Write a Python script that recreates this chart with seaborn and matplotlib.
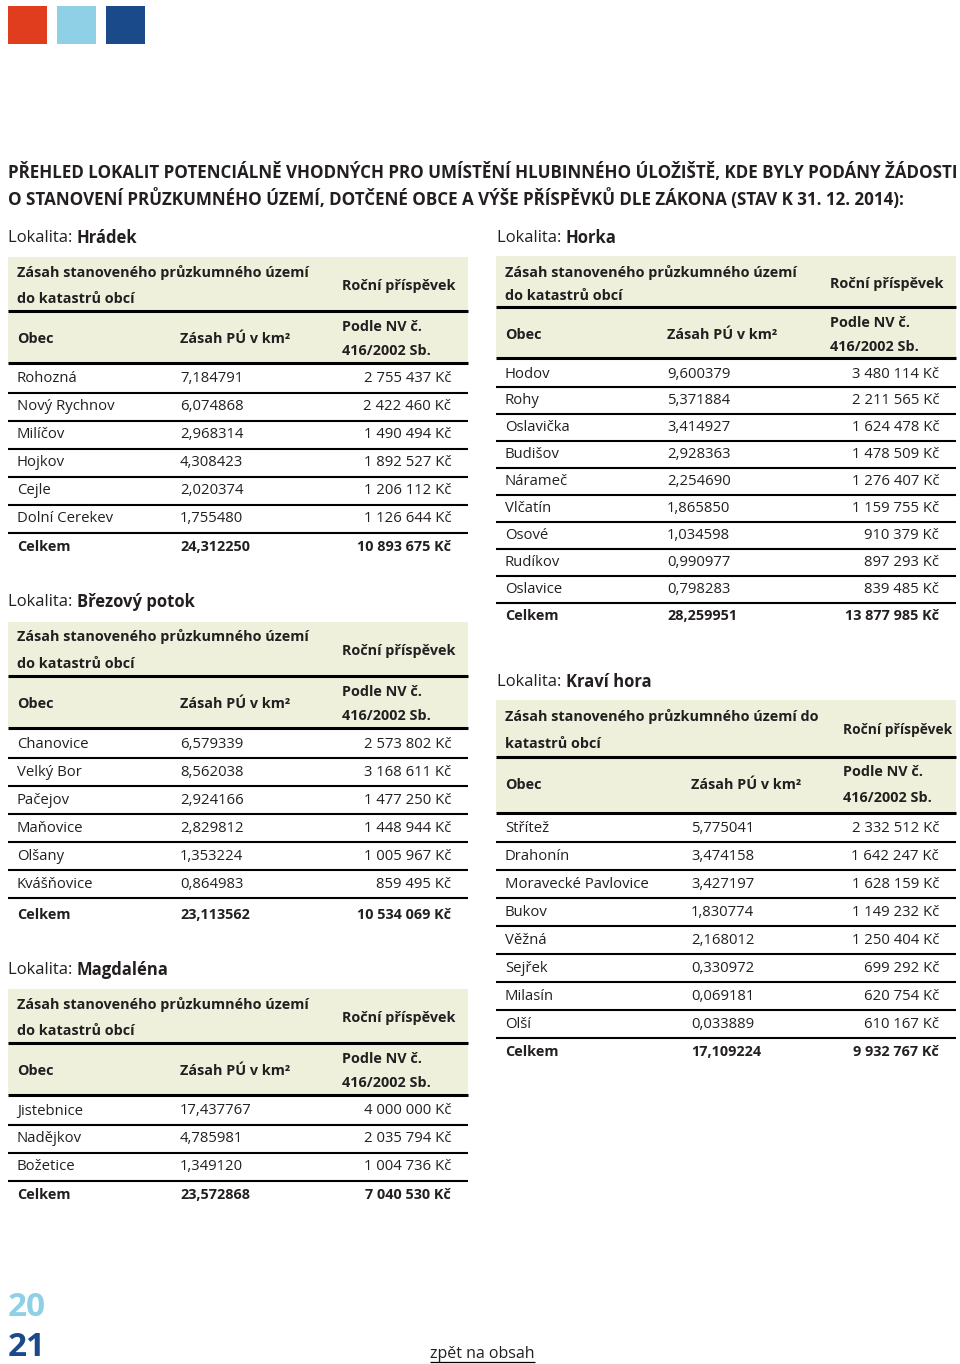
import matplotlib
matplotlib.use("Agg")
import matplotlib.pyplot as plt
from matplotlib.patches import Rectangle
import seaborn as sns

# ---------------- data ----------------
title_lines = [
    "PŘEHLED LOKALIT POTENCIÁLNĚ VHODNÝCH PRO UMÍSTĚNÍ HLUBINNÉHO ÚLOŽIŠTĚ, KDE BYLY PODÁNY ŽÁDOSTI",
    "O STANOVENÍ PRŮZKUMNÉHO ÚZEMÍ, DOTČENÉ OBCE A VÝŠE PŘÍSPĚVKŮ DLE ZÁKONA (STAV K 31. 12. 2014):",
]

hradek_obce = ["Rohozná", "Nový Rychnov", "Milíčov", "Hojkov", "Cejle", "Dolní Cerekev"]
hradek_km2 = [7.184791, 6.074868, 2.968314, 4.308423, 2.020374, 1.755480]
hradek_kc = [2755437, 2422460, 1490494, 1892527, 1206112, 1126644]
hradek_total = (24.312250, 10893675)

brezovy_obce = ["Chanovice", "Velký Bor", "Pačejov", "Maňovice", "Olšany", "Kvášňovice"]
brezovy_km2 = [6.579339, 8.562038, 2.924166, 2.829812, 1.353224, 0.864983]
brezovy_kc = [2573802, 3168611, 1477250, 1448944, 1005967, 859495]
brezovy_total = (23.113562, 10534069)

magdalena_obce = ["Jistebnice", "Nadějkov", "Božetice"]
magdalena_km2 = [17.437767, 4.785981, 1.349120]
magdalena_kc = [4000000, 2035794, 1004736]
magdalena_total = (23.572868, 7040530)

horka_obce = ["Hodov", "Rohy", "Oslavička", "Budišov", "Nárameč", "Vlčatín", "Osové", "Rudíkov", "Oslavice"]
horka_km2 = [9.600379, 5.371884, 3.414927, 2.928363, 2.254690, 1.865850, 1.034598, 0.990977, 0.798283]
horka_kc = [3480114, 2211565, 1624478, 1478509, 1276407, 1159755, 910379, 897293, 839485]
horka_total = (28.259951, 13877985)

kravi_obce = ["Střítež", "Drahonín", "Moravecké Pavlovice", "Bukov", "Věžná", "Sejřek", "Milasín", "Olší"]
kravi_km2 = [5.775041, 3.474158, 3.427197, 1.830774, 2.168012, 0.330972, 0.069181, 0.033889]
kravi_kc = [2332512, 1642247, 1628159, 1149232, 1250404, 699292, 620754, 610167]
kravi_total = (17.109224, 9932767)

header1_std = ["Zásah stanoveného průzkumného území", "do katastrů obcí"]
header1_kravi = ["Zásah stanoveného průzkumného území do", "katastrů obcí"]
header_rocni = "Roční příspěvek"
header_obec = "Obec"
header_zasah = "Zásah PÚ v km²"
header_podle = ["Podle NV č.", "416/2002 Sb."]
celkem_label = "Celkem"

square_colors = ["#e03c1e", "#8fd0e6", "#1a4a8a"]
page_numbers = ["20", "21"]
footer_link = "zpět na obsah"

# ---------------- style ----------------
sns.set_theme(style="white")
plt.rcParams["font.family"] = ["Open Sans", "DejaVu Sans"]

TXT = "#231f20"
BG = "#eef0dc"

fig = plt.figure(figsize=(9.6, 13.64), dpi=100)
ax = fig.add_axes([0, 0, 1, 1])
ax.set_xlim(0, 960)
ax.set_ylim(1364, 0)
ax.axis("off")
renderer = fig.canvas.get_renderer()


def text_width(s, size, weight="normal"):
    t = ax.text(0, 0, s, fontsize=size, fontweight=weight)
    w = t.get_window_extent(renderer).width
    t.remove()
    return w


def fit(s, target, weight="normal"):
    return 10 * target / text_width(s, 10, weight)


def fmt_km(v):
    return f"{v:.6f}".replace(".", ",")


def fmt_kc(v):
    return f"{v:,}".replace(",", " ") + " Kč"


DATA_FS = 0.5 * (fit("2 755 437 Kč", 90) + fit("Moravecké Pavlovice", 138))
HEAD_FS = 0.5 * (fit(header_rocni, 116, "bold") + fit(header1_std[0], 288, "bold"))
ROCNI_KRAVI_FS = HEAD_FS * 0.95
LOK_FS = fit("Lokalita: ", 69)

# top colour squares
for i, c in enumerate(square_colors):
    ax.add_patch(Rectangle((8 + i * 49, 6), 39, 38, color=c, lw=0))

# title
tfs = fit(title_lines[0], 949, "bold")
ax.text(8, 172, title_lines[0], fontsize=tfs, fontweight="bold", color=TXT, va="center")
ax.text(8, 199, title_lines[1], fontsize=tfs, fontweight="bold", color=TXT, va="center")


def lokalita(x, y, name):
    ax.text(x, y, "Lokalita: ", fontsize=LOK_FS, color=TXT, va="center")
    w = text_width("Lokalita: ", LOK_FS)
    ax.text(x + w, y, name, fontsize=LOK_FS, fontweight="bold", color=TXT, va="center")


def hline(x0, x1, y, lw):
    ax.plot([x0, x1], [y, y], color="black", lw=lw, solid_capstyle="butt")


def draw_table(L, obce, km2, kc, total, h1, rocni_fs=None):
    x0, x1 = L["x0"], L["x1"]
    t1 = L["t1"]
    ax.add_patch(Rectangle((x0, L["bg_top"]), x1 - x0, L["line2"] - L["bg_top"], color=BG, lw=0, zorder=0))
    ax.text(L["c1"], t1, h1[0], fontsize=HEAD_FS, fontweight="bold", color=TXT, va="center")
    ax.text(L["c1"], t1 + L["h1gap"], h1[1], fontsize=HEAD_FS, fontweight="bold", color=TXT, va="center")
    ax.text(L["c3l"], L["rocni_y"], header_rocni, fontsize=rocni_fs or HEAD_FS, fontweight="bold",
            color=TXT, va="center")
    hline(x0, x1, L["line1"], 2.2)
    ax.text(L["c1"], L["h2"], header_obec, fontsize=HEAD_FS, fontweight="bold", color=TXT, va="center")
    ax.text(L["c2"], L["h2"], header_zasah, fontsize=HEAD_FS, fontweight="bold", color=TXT, va="center")
    ax.text(L["c3l"], L["h2"] - L["pgap"], header_podle[0], fontsize=HEAD_FS, fontweight="bold", color=TXT, va="center")
    ax.text(L["c3l"], L["h2"] + L["pgap"], header_podle[1], fontsize=HEAD_FS, fontweight="bold", color=TXT, va="center")
    hline(x0, x1, L["line2"], 2.2)
    for i, (o, k, c) in enumerate(zip(obce, km2, kc)):
        y = L["r0"] + i * L["step"]
        ax.text(L["c1"], y, o, fontsize=DATA_FS, color=TXT, va="center")
        ax.text(L["c2"], y, fmt_km(k), fontsize=DATA_FS, color=TXT, va="center")
        ax.text(L["c3r"], y, fmt_kc(c), fontsize=DATA_FS, color=TXT, va="center", ha="right")
        hline(x0, x1, y + L["step"] / 2, 1.5)
    yc = L["celkem"]
    ax.text(L["c1"], yc, celkem_label, fontsize=HEAD_FS, fontweight="bold", color=TXT, va="center")
    ax.text(L["c2"], yc, fmt_km(total[0]), fontsize=HEAD_FS, fontweight="bold", color=TXT, va="center")
    ax.text(L["c3r"], yc, fmt_kc(total[1]), fontsize=HEAD_FS, fontweight="bold", color=TXT, va="center", ha="right")


def left_layout(t1, celkem):
    return dict(x0=8, x1=468, c1=17, c2=180, c3l=342, c3r=451, t1=t1 + 1, bg_top=t1 - 14,
                h1gap=27, rocni_y=t1 + 15, line1=t1 + 40, h2=t1 + 68, pgap=12,
                line2=t1 + 92, r0=t1 + 108, step=28, celkem=celkem + 1)


# left column
lokalita(8, 238, "Hrádek")
draw_table(left_layout(271, 546), hradek_obce, hradek_km2, hradek_kc, hradek_total, header1_std)

lokalita(8, 602, "Březový potok")
draw_table(left_layout(636, 914), brezovy_obce, brezovy_km2, brezovy_kc, brezovy_total, header1_std)

lokalita(8, 970, "Magdaléna")
draw_table(left_layout(1003, 1194), magdalena_obce, magdalena_km2, magdalena_kc, magdalena_total, header1_std)

# right column
lokalita(497, 238, "Horka")
draw_table(dict(x0=496, x1=956, c1=505, c2=667, c3l=830, c3r=939, t1=272, bg_top=256,
                h1gap=24, rocni_y=284, line1=307, h2=335, pgap=12, line2=358,
                r0=374, step=26.9, celkem=616),
           horka_obce, horka_km2, horka_kc, horka_total, header1_std)

lokalita(497, 682, "Kraví hora")
draw_table(dict(x0=496, x1=956, c1=505, c2=691, c3l=843, c3r=939, t1=717, bg_top=700,
                h1gap=27, rocni_y=730, line1=757, h2=785, pgap=13.5, line2=813,
                r0=828, step=28, celkem=1052),
           kravi_obce, kravi_km2, kravi_kc, kravi_total, header1_kravi, rocni_fs=ROCNI_KRAVI_FS)

# page numbers and footer link
pfs = fit(page_numbers[0], 38, "bold")
ax.text(8, 1307, page_numbers[0], fontsize=pfs, fontweight="bold", color=square_colors[1], va="center")
ax.text(8, 1348, page_numbers[1], fontsize=pfs, fontweight="bold", color=square_colors[2], va="center")

ffs = fit(footer_link, 105)
ax.text(430, 1354, footer_link, fontsize=ffs, color=TXT, va="center")
hline(430, 535, 1362, 0.9)

fig.savefig("out.png", dpi=100)
